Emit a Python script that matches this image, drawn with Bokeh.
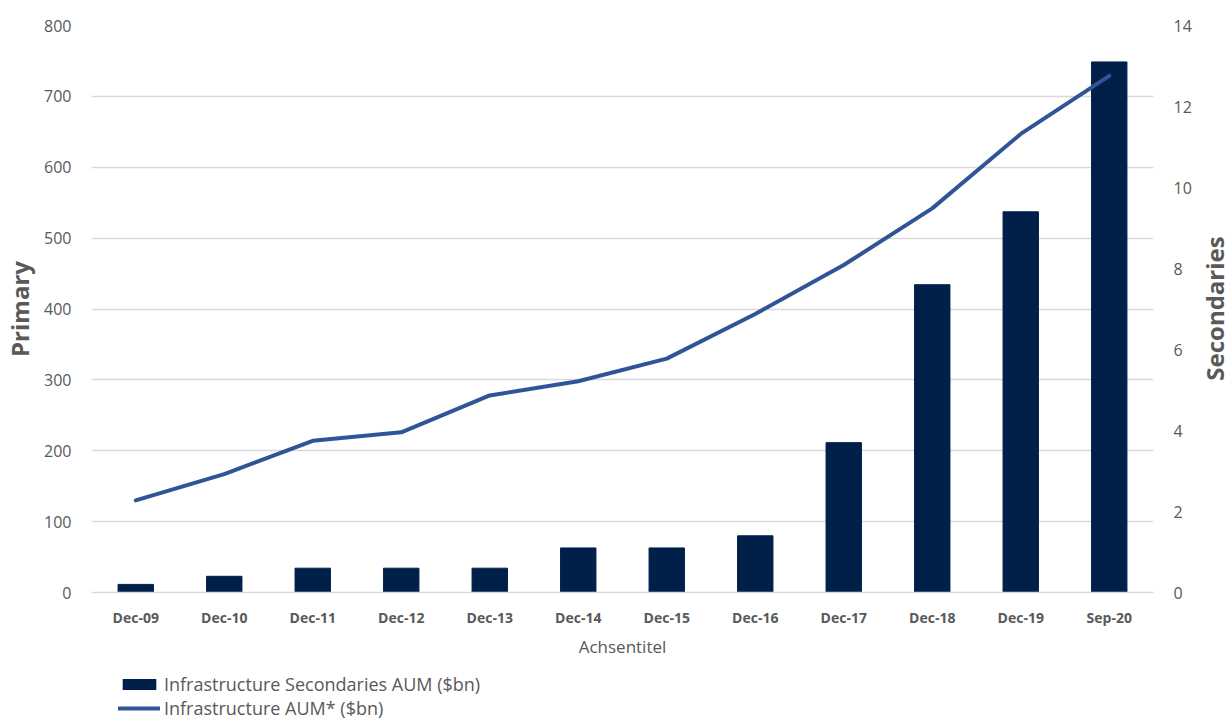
import math
from bokeh.plotting import figure
from bokeh.layouts import column, row
from bokeh.models import (FactorRange, Range1d, LinearAxis, Legend, LegendItem,
                          SingleIntervalTicker, ColumnDataSource, Label)
from bokeh.embed import file_html
from bokeh.resources import INLINE

categories = ["Dec-09", "Dec-10", "Dec-11", "Dec-12", "Dec-13", "Dec-14",
              "Dec-15", "Dec-16", "Dec-17", "Dec-18", "Dec-19", "Sep-20"]
secondaries_aum = [0.2, 0.4, 0.6, 0.6, 0.6, 1.1, 1.1, 1.4, 3.7, 7.6, 9.4, 13.1]
infrastructure_aum = [130, 167, 214, 226, 278, 298, 330, 393, 462, 542, 647, 729]
series_names = ["Infrastructure Secondaries AUM ($bn)", "Infrastructure AUM* ($bn)"]

FONT = "Open Sans"
TXT = "#595959"
BAR = "#00204A"
LINE = "#2F5597"

src = ColumnDataSource(dict(cat=categories, sec=secondaries_aum, aum=infrastructure_aum))

p = figure(x_range=FactorRange(*categories, range_padding=0),
           y_range=Range1d(0, 800),
           width=1198, height=674,
           min_border_left=91, min_border_right=45,
           min_border_top=25, min_border_bottom=82,
           output_backend="svg", toolbar_location=None,
           background_fill_color="white", border_fill_color="white")
p.outline_line_color = None
p.extra_y_ranges = {"sec": Range1d(0, 14)}

p.vbar(x="cat", top="sec", width=0.4, source=src, y_range_name="sec",
       fill_color=BAR, line_color=BAR)
p.line(x="cat", y="aum", source=src, line_color=LINE, line_width=4,
       line_cap="round", line_join="round")

# grid
p.xgrid.visible = False
p.ygrid.grid_line_color = "#D9D9D9"
p.ygrid.grid_line_width = 1.5
p.yaxis.ticker = SingleIntervalTicker(interval=100)

# left axis
ya = p.yaxis[0]
ya.axis_line_color = None
ya.major_tick_line_color = None
ya.minor_tick_line_color = None
ya.major_label_standoff = 14
ya.major_label_text_font = FONT
ya.major_label_text_font_size = "16px"
ya.major_label_text_color = TXT
ya.axis_label = "Primary"
ya.axis_label_text_font = FONT
ya.axis_label_text_font_size = "24px"
ya.axis_label_text_font_style = "bold"
ya.axis_label_text_color = TXT
ya.axis_label_standoff = 5

# right axis (ticks)
ra = LinearAxis(y_range_name="sec", ticker=SingleIntervalTicker(interval=2))
ra.axis_line_color = None
ra.major_tick_line_color = None
ra.minor_tick_line_color = None
ra.major_label_standoff = 14
ra.major_label_text_font = FONT
ra.major_label_text_font_size = "16px"
ra.major_label_text_color = TXT
p.add_layout(ra, "right")

# x axis
xa = p.xaxis[0]
xa.axis_line_color = "#D9D9D9"
xa.axis_line_width = 1.5
xa.major_tick_line_color = None
xa.minor_tick_line_color = None
xa.major_label_standoff = 9
xa.major_label_text_font = FONT
xa.major_label_text_font_size = "14px"
xa.major_label_text_font_style = "bold"
xa.major_label_text_color = TXT
xa.axis_label = "Achsentitel"
xa.axis_label_text_font = FONT
xa.axis_label_text_font_size = "17px"
xa.axis_label_text_font_style = "normal"
xa.axis_label_text_color = TXT
xa.axis_label_standoff = 5

# right axis title, in a narrow strip (reads bottom to top); its frame aligns with the main frame
pr = figure(width=28, height=674, min_border=0, x_range=Range1d(0, 1), y_range=Range1d(0, 1),
            x_axis_location=None, y_axis_location=None,
            output_backend="svg", toolbar_location=None)
pr.outline_line_color = None
pr.grid.visible = False
pr.add_layout(Label(x=16, y=284, x_units="screen", y_units="screen",
                    text="Secondaries", angle=math.pi / 2, text_align="center",
                    text_baseline="middle", text_font=FONT, text_font_size="24px",
                    text_font_style="bold", text_color=TXT))

# legend strip (same data, drawn outside its visible range so only the legend shows)
pl = figure(width=1226, height=46, min_border=0,
            x_range=FactorRange(*categories, range_padding=0), y_range=Range1d(-20, -10),
            x_axis_location=None, y_axis_location=None,
            output_backend="svg", toolbar_location=None)
pl.outline_line_color = None
pl.grid.visible = False
lb = pl.vbar(x="cat", top="sec", bottom="sec", width=0, source=src,
             fill_color=BAR, line_color=None)
ll = pl.line(x="cat", y="aum", source=src, line_color=LINE, line_width=4, line_cap="round")
legend = Legend(items=[LegendItem(label=series_names[0], renderers=[lb]),
                       LegendItem(label=series_names[1], renderers=[ll])],
                location=(118, 0), orientation="vertical",
                glyph_width=42, glyph_height=14, label_standoff=4,
                label_height=23, spacing=0, padding=0, margin=0,
                label_text_font=FONT, label_text_font_size="18px",
                label_text_color=TXT, border_line_color=None,
                background_fill_alpha=0)
pl.add_layout(legend, "center")

layout = column(row(p, pr), pl)
open("out.html", "w").write(file_html(layout, INLINE))
